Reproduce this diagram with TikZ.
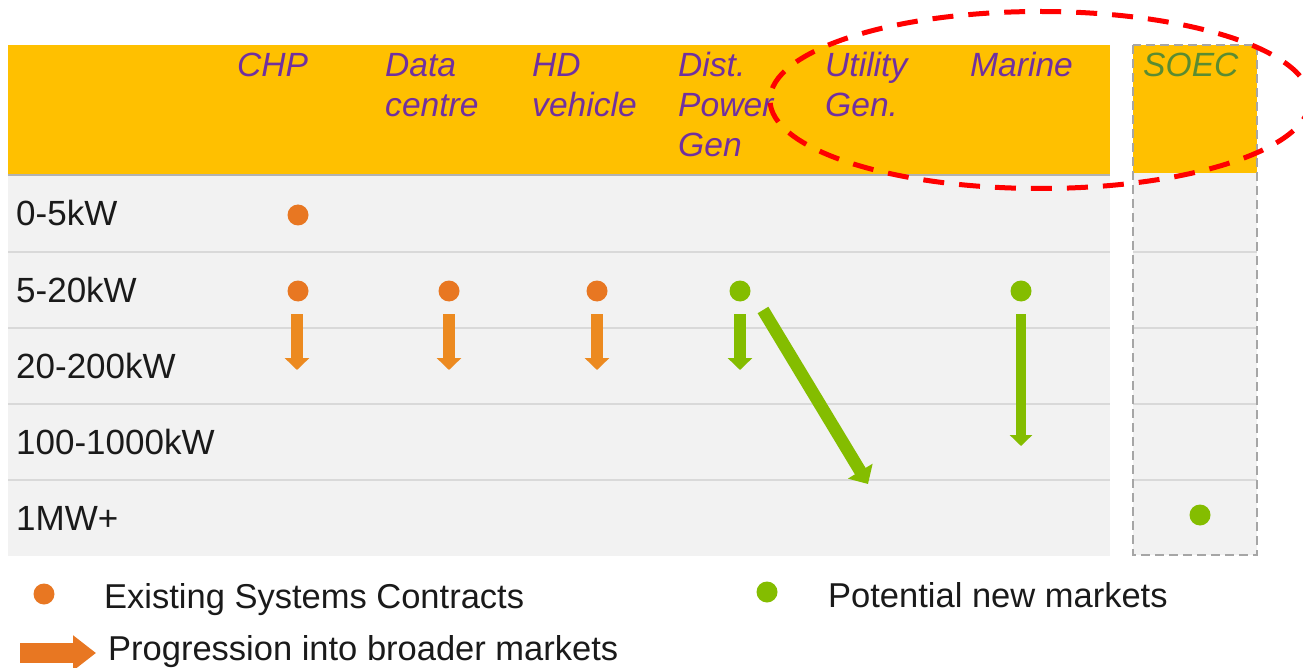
\documentclass[tikz,border=0pt]{standalone}
\usepackage{fontspec}
\setmainfont{Liberation Sans}
\usetikzlibrary{arrows.meta}
\definecolor{hdryellow}{HTML}{FFC000}
\definecolor{bodygray}{HTML}{F2F2F2}
\definecolor{sepgray}{HTML}{D9D9D9}
\definecolor{framegray}{HTML}{A6A6A6}
\definecolor{hpurple}{HTML}{7030A0}
\definecolor{soecgreen}{RGB}{90,140,50}
\definecolor{dotorange}{HTML}{E87722}
\definecolor{arrorange}{HTML}{EC8A20}
\definecolor{dotgreen}{RGB}{132,189,0}
\definecolor{txt}{HTML}{1A1A1A}
\newcommand{\hlines}[1]{\begin{tabular}[t]{@{}l@{}}#1\end{tabular}}
\begin{document}
\begin{tikzpicture}[x=1pt,y=-1pt,
 hdr/.style={anchor=base west, inner sep=0pt, font=\fontsize{33.6}{40}\selectfont\itshape, text=hpurple},
 rowlab/.style={anchor=base west, inner sep=0pt, font=\fontsize{35}{40}\selectfont, text=txt},
 leg/.style={anchor=base west, inner sep=0pt, font=\fontsize{34.5}{40}\selectfont, text=txt},
 odot/.style={circle, fill=dotorange, inner sep=0pt, minimum size=21pt},
 gdot/.style={circle, fill=dotgreen, inner sep=0pt, minimum size=21pt},
 oarr/.style={draw=arrorange, line width=12pt, -{Triangle[width=24pt,length=12pt]}},
 garr/.style={draw=dotgreen, line width=12pt, -{Triangle[width=24pt,length=12pt]}},
 sep/.style={draw=sepgray, line width=2pt},
]
\useasboundingbox (0,0) rectangle (1303,668);
\fill[white] (0,0) rectangle (1303,668);
% main table
\fill[bodygray] (8,175) rectangle (1110,556);
\fill[hdryellow] (8,45) rectangle (1110,175);
\draw[draw=black!30, line width=1.5pt] (8,175) -- (1110,175);
\foreach \yy in {252,328,404,480} {\draw[sep] (8,\yy) -- (1110,\yy);}
% SOEC column
\fill[bodygray] (1133,173) rectangle (1257,555);
\fill[hdryellow] (1133,45) rectangle (1257,173);
\foreach \yy in {252,328,404,480} {\draw[sep] (1133,\yy) -- (1257,\yy);}
\draw[framegray, line width=2.5pt, dash pattern=on 9pt off 5pt] (1133,45) rectangle (1257,555);
% headers
\node[hdr] (hchp) at (237,77) {CHP};
\node[hdr] (hdata) at (385,77) {\hlines{Data\\centre}};
\node[hdr] (hhd) at (532,77) {\hlines{HD\\vehicle}};
\node[hdr] (hdist) at (678,77) {\hlines{Dist.\\Power\\Gen}};
\node[hdr] (hutil) at (825,77) {\hlines{Utility\\Gen.}};
\node[hdr] (hmarine) at (970,77) {Marine};
\node[hdr, text=soecgreen] (hsoec) at (1143,77) {SOEC};
% row labels
\node[rowlab] (r1) at (16,226) {0-5kW};
\node[rowlab] (r2) at (16,302) {5-20kW};
\node[rowlab] (r3) at (16,378) {20-200kW};
\node[rowlab] (r4) at (16,454) {100-1000kW};
\node[rowlab] (r5) at (16,530) {1MW+};
% dots
\node[odot] (d1) at (298,215) {};
\node[odot] (d2) at (298,291) {};
\node[odot] (d3) at (449,291) {};
\node[odot] (d4) at (597,291) {};
\node[gdot] (d5) at (740,291) {};
\node[gdot] (d6) at (1021,291) {};
\node[gdot] (d7) at (1200,515) {};
% arrows
\coordinate (a1s) at (297,314); \coordinate (a1e) at (297,370);
\coordinate (a2s) at (449,314); \coordinate (a2e) at (449,370);
\coordinate (a3s) at (597,314); \coordinate (a3e) at (597,370);
\coordinate (a4s) at (740,314); \coordinate (a4e) at (740,370);
\coordinate (a5s) at (1021,314); \coordinate (a5e) at (1021,446);
\coordinate (a6s) at (763,310); \coordinate (a6e) at (868,484);
\draw[oarr] (a1s) -- (a1e);
\draw[oarr] (a2s) -- (a2e);
\draw[oarr] (a3s) -- (a3e);
\draw[garr] (a4s) -- (a4e);
\draw[draw=dotgreen, line width=10.5pt, -{Triangle[width=22pt,length=11pt]}] (a5s) -- (a5e);
\draw[draw=dotgreen, line width=12.5pt, -{Triangle[width=28pt,length=15pt]}] (a6s) -- (a6e);
% red dashed ellipse
\draw[red, line width=5pt, dash pattern=on 21pt off 15pt] (1040,100) ellipse [x radius=270, y radius=88.5];
% legend
\node[odot] (l1) at (44,594) {};
\node[leg] (l1t) at (104,608) {Existing Systems Contracts};
\node[gdot] (l2) at (767,592) {};
\node[leg] (l2t) at (828,607) {Potential new markets};
\coordinate (l3s) at (20,653); \coordinate (l3e) at (96,653);
\draw[draw=dotorange, line width=20pt, -{Triangle[width=34pt,length=23pt]}] (l3s) -- (l3e);
\node[leg] (l3t) at (108,660) {Progression into broader markets};
\end{tikzpicture}
\end{document}
